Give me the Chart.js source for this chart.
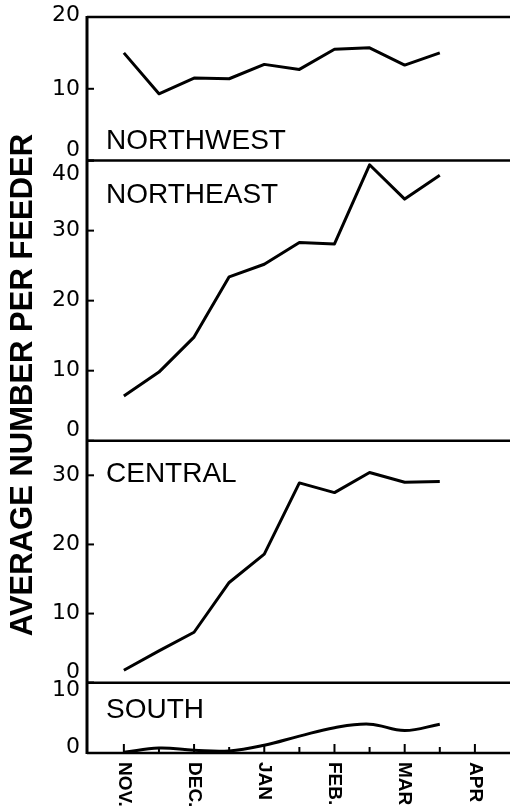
<!DOCTYPE html>
<html>
<head>
<meta charset="utf-8">
<script src="https://cdn.jsdelivr.net/npm/chart.js@4.4.1/dist/chart.umd.min.js"></script>
<style>
  html, body { margin: 0; padding: 0; background: #fff; }
  #wrap { width: 510px; height: 812px; }
</style>
</head>
<body>
<div id="wrap"><canvas id="chart" width="510" height="812"></canvas></div>
<script>
// x positions in half months from 1 Nov
const halfMonths = [0, 1, 2, 3, 4, 5, 6, 7, 8, 9]

const northwest = [15.0, 9.3, 11.5, 11.4, 13.4, 12.7, 15.5, 15.7, 13.3, 15.0]
const northeast = [6.4, 9.8, 14.8, 23.4, 25.2, 28.3, 28.1, 39.4, 34.5, 37.9]
const central = [1.8, 4.6, 7.3, 14.5, 18.6, 28.9, 27.5, 30.4, 29.0, 29.1]
const south = [0.1, 0.7, 0.4, 0.3, 1.1, 2.4, 3.6, 4.1, 3.2, 4.1]

const regions = ['NORTHWEST', 'NORTHEAST', 'CENTRAL', 'SOUTH']
const regionMax = [20, 40, 35, 10]
const regionTicks = [[0, 10, 20], [0, 10, 20, 30, 40], [0, 10, 20, 30], [0, 10]]

const monthLabels = ['NOV.', 'DEC.', 'JAN', 'FEB.', 'MAR', 'APR']
const monthTicks = [0, 2, 4, 6, 8, 10]
const halfMonthTicks = [1, 3, 5, 7, 9]

const yTitle = 'AVERAGE NUMBER PER FEEDER'

const seriesList = [northwest, northeast, central, south]

// relative panel heights, as drawn in the original
const panelWeights = [143, 279, 241, 70]

let scales = {
    x: { type: 'linear', min: -1.05, max: 11, display: false }
}
// stacked left axes are laid out last-defined on top, so add them bottom first
for (let i = regions.length - 1; i >= 0; i--) {
    scales['y' + i] = {
        type: 'linear',
        position: 'left',
        stack: 'panels',
        stackWeight: panelWeights[i],
        min: 0,
        max: regionMax[i],
        display: false
    }
}

let datasets = seriesList.map((values, i) => ({
    label: regions[i],
    data: halfMonths.map((x, j) => ({ x: x, y: values[j] })),
    xAxisID: 'x',
    yAxisID: 'y' + i,
    borderColor: '#000',
    borderWidth: 3,
    pointRadius: 0,
    fill: false,
    tension: i === 3 ? 0.4 : 0,
    borderJoinStyle: 'round'
}))

// where the region name sits inside its panel
const nameBaseline = [
    s => s.bottom - 12,
    s => s.top + 42,
    s => s.top + 41,
    s => s.top + 35
]

const framePlugin = {
    id: 'frame',
    afterDatasetsDraw(chart) {
        const ctx = chart.ctx
        const area = chart.chartArea
        const xs = chart.scales.x
        ctx.save()
        ctx.strokeStyle = '#000'
        ctx.fillStyle = '#000'

        // panel separators and bottom axis
        ctx.lineWidth = 2.5
        regions.forEach((name, i) => {
            const s = chart.scales['y' + i]
            ctx.beginPath()
            ctx.moveTo(area.left, s.top)
            ctx.lineTo(area.right, s.top)
            ctx.stroke()
        })
        ctx.beginPath()
        ctx.moveTo(area.left, area.bottom)
        ctx.lineTo(area.right, area.bottom)
        ctx.stroke()

        // left axis
        ctx.lineWidth = 3
        ctx.beginPath()
        ctx.moveTo(area.left, area.top - 1)
        ctx.lineTo(area.left, area.bottom + 1)
        ctx.stroke()

        // y ticks and labels
        ctx.lineWidth = 2
        ctx.font = '22px "DejaVu Sans"'
        ctx.textAlign = 'right'
        ctx.textBaseline = 'middle'
        regions.forEach((name, i) => {
            const s = chart.scales['y' + i]
            regionTicks[i].forEach(v => {
                const py = s.getPixelForValue(v)
                ctx.beginPath()
                ctx.moveTo(area.left, py)
                ctx.lineTo(area.left + 7, py)
                ctx.stroke()
                let shift = 0
                if (v === 0) shift = i === 3 ? -6 : -10
                if (v === regionMax[i]) shift = i === 0 ? -2 : (i === 3 ? 8 : 14)
                ctx.fillText(String(v), area.left - 7, py + shift)
            })
        })

        // x ticks
        monthTicks.forEach(v => {
            const px = xs.getPixelForValue(v)
            ctx.beginPath()
            ctx.moveTo(px, area.bottom)
            ctx.lineTo(px, area.bottom - 9)
            ctx.stroke()
        })
        halfMonthTicks.forEach(v => {
            const px = xs.getPixelForValue(v)
            ctx.beginPath()
            ctx.moveTo(px, area.bottom)
            ctx.lineTo(px, area.bottom - 6)
            ctx.stroke()
        })

        // month labels, reading downwards
        ctx.font = 'bold 19px "Liberation Sans"'
        ctx.textAlign = 'left'
        ctx.textBaseline = 'middle'
        monthLabels.forEach((label, i) => {
            const px = xs.getPixelForValue(monthTicks[i])
            ctx.save()
            ctx.translate(px, area.bottom + 9)
            ctx.rotate(Math.PI / 2)
            ctx.fillText(label, 0, 0)
            ctx.restore()
        })

        // region names
        ctx.font = '28px "Liberation Sans"'
        ctx.textAlign = 'left'
        ctx.textBaseline = 'alphabetic'
        regions.forEach((name, i) => {
            const s = chart.scales['y' + i]
            ctx.fillText(name, 106, nameBaseline[i](s))
        })

        // y title
        ctx.font = 'bold 31px "Liberation Sans"'
        ctx.textAlign = 'center'
        ctx.textBaseline = 'middle'
        ctx.translate(23, (area.top + area.bottom) / 2)
        ctx.rotate(-Math.PI / 2)
        ctx.fillText(yTitle, 0, 0)

        ctx.restore()
    }
}

new Chart(document.getElementById('chart'), {
    type: 'line',
    data: { datasets: datasets },
    options: {
        responsive: false,
        animation: false,
        layout: { padding: { left: 87, right: 0, top: 17, bottom: 59 } },
        scales: scales,
        plugins: {
            legend: { display: false },
            tooltip: { enabled: false }
        }
    },
    plugins: [framePlugin]
})
</script>
</body>
</html>
